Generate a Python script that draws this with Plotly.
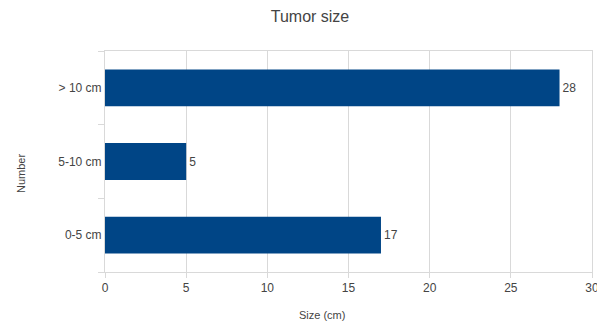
import plotly.graph_objects as go

categories = ["0-5 cm", "5-10 cm", "> 10 cm"]
values = [17, 5, 28]
x_ticks = [0, 5, 10, 15, 20, 25, 30]

W, H = 605, 325
OFF = 8  # page body margin offset
# target plot area in screen pixels: left 105, right 592, top 51, bottom 272
L, T = 105 - OFF, 51 - OFF
R = W - (592 - OFF)
B = H - (272 - OFF)
pw, ph = W - L - R, H - T - B


def px_x(sx):
    return (sx - OFF - L) / pw


def px_y(sy):
    return 1 - (sy - OFF - T) / ph


fig = go.Figure(go.Bar(
    y=categories, x=values, orientation="h",
    marker=dict(color="#004586", line=dict(width=0)),
    text=[str(v) for v in values], textposition="outside",
    textfont=dict(size=12, color="#444444"), cliponaxis=False,
))
fig.update_layout(
    width=W, height=H,
    margin=dict(l=L, r=R, t=T, b=B, autoexpand=False),
    paper_bgcolor="white", plot_bgcolor="white",
    font=dict(family="Liberation Sans, Arial, sans-serif", size=12, color="#444444"),
    title=dict(text="Tumor size", xref="container", yref="container",
               x=(310 - OFF) / W, xanchor="center",
               y=1 - (16 - OFF) / H, yanchor="middle",
               font=dict(size=16, color="#444444")),
    bargap=0.5,
    showlegend=False,
    annotations=[
        dict(text="Size (cm)", xref="paper", yref="paper",
             x=px_x(322), y=px_y(315),
             xanchor="center", yanchor="middle", showarrow=False,
             font=dict(size=11, color="#444444")),
        dict(text="Number", xref="paper", yref="paper", textangle=-90,
             x=px_x(21), y=px_y(174),
             xanchor="center", yanchor="middle", showarrow=False,
             font=dict(size=11, color="#444444")),
    ],
)
fig.update_xaxes(range=[0, 30], tickvals=x_ticks, showgrid=True, gridcolor="#d9d9d9",
                 zeroline=False, showline=True, linecolor="#d9d9d9", mirror=True,
                 ticks="outside", ticklen=5, tickcolor="#d9d9d9", automargin=False)
fig.update_yaxes(showgrid=False, showline=True, linecolor="#d9d9d9", mirror=True,
                 ticks="outside", ticklen=6, tickcolor="#d9d9d9", tickson="boundaries",
                 automargin=False)
fig.write_html("out.html")
